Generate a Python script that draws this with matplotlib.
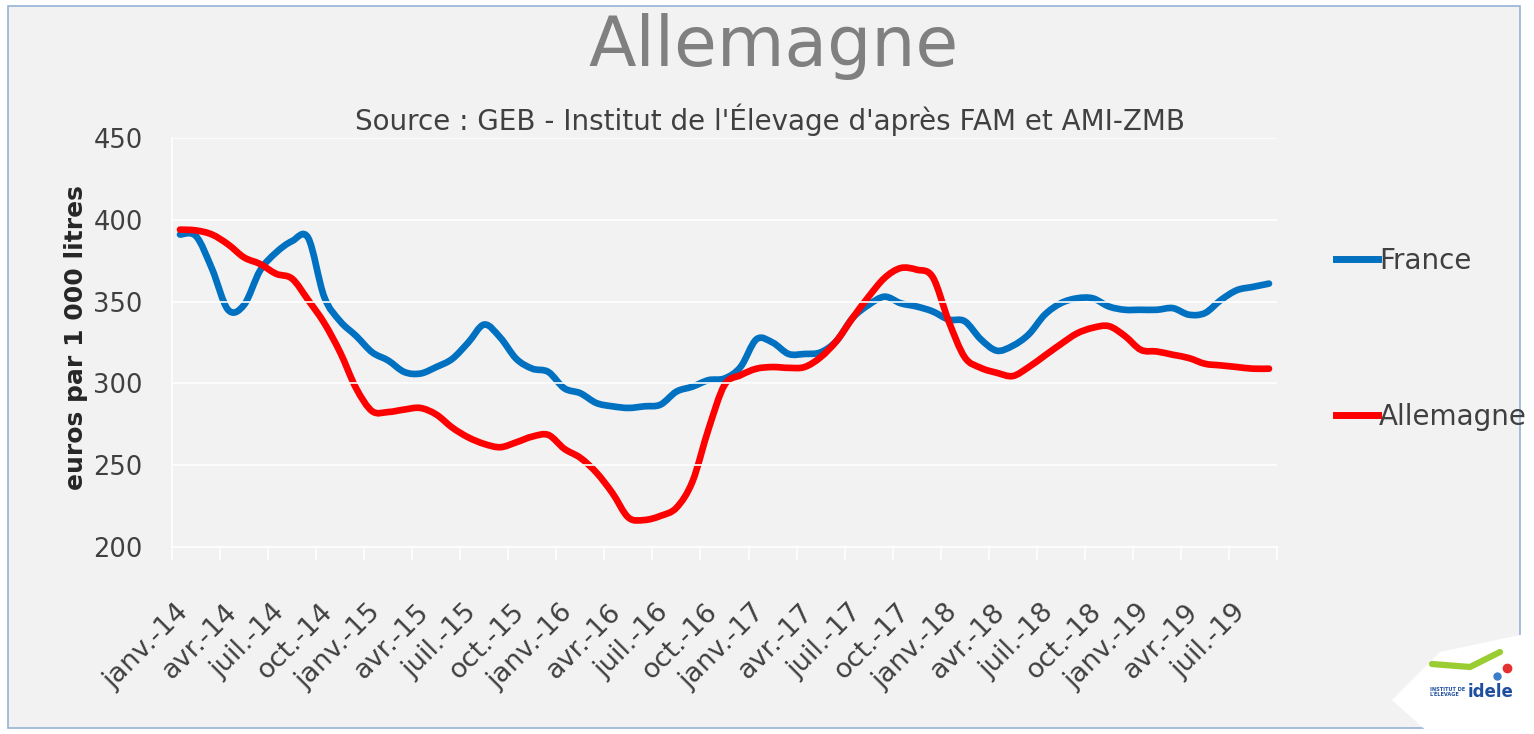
import numpy as np
import matplotlib
matplotlib.use('Agg')
import matplotlib.pyplot as plt
from matplotlib.path import Path
from matplotlib.patches import PathPatch, Rectangle, Polygon
from matplotlib.lines import Line2D

# monthly milk price, janv.-14 .. sept.-19 (euros par 1 000 litres)
france = [391, 390, 370, 345, 348, 369, 380, 387, 389, 353, 338, 329, 319, 314,
          307, 306, 310, 315, 325, 336, 328, 315, 309, 307, 297, 294, 288, 286,
          285, 286, 287, 295, 298, 302, 303, 310, 327, 325, 318, 318, 319, 326,
          340, 348, 353, 349, 347, 344, 339, 338, 327, 320, 323, 330, 342, 349,
          352, 352, 347, 345, 345, 345, 346, 342, 343, 351, 357, 359, 361]
allemagne = [394, 393.5, 391, 385, 377, 373, 367, 364, 351, 337, 319, 297, 283,
             282.5, 284, 285, 281, 273, 267, 263, 261, 264, 267.5, 268.5, 260,
             254.5, 245.5, 233, 218, 216.5, 219, 224, 240, 272, 299, 305, 309,
             310, 309.5, 310, 316, 326, 340, 353, 364.5, 370.5, 369.5, 365, 338,
             316, 309.5, 306.5, 304.5, 310, 317, 324, 330.5, 334, 335, 329, 320.5,
             319.5, 317.5, 315.5, 312, 311, 310, 309, 309]
tick_labels = ['janv.-14', 'avr.-14', 'juil.-14', 'oct.-14',
               'janv.-15', 'avr.-15', 'juil.-15', 'oct.-15',
               'janv.-16', 'avr.-16', 'juil.-16', 'oct.-16',
               'janv.-17', 'avr.-17', 'juil.-17', 'oct.-17',
               'janv.-18', 'avr.-18', 'juil.-18', 'oct.-18',
               'janv.-19', 'avr.-19', 'juil.-19']

BLUE = '#0070C0'
RED = '#FF0000'
TXT = '#404040'


# smoothed line like Excel's (cubic bezier through every point)
def smooth_path(y):
    pts = np.column_stack([np.arange(len(y)), np.asarray(y, float)])
    verts = [pts[0]]
    codes = [Path.MOVETO]
    n = len(pts)
    for i in range(n - 1):
        p0 = pts[max(i - 1, 0)]
        p1 = pts[i]
        p2 = pts[i + 1]
        p3 = pts[min(i + 2, n - 1)]
        verts += [p1 + (p2 - p0) / 6, p2 - (p3 - p1) / 6, p2]
        codes += [Path.CURVE4] * 3
    return Path(verts, codes)


fig = plt.figure(figsize=(15.34, 7.34), dpi=100, facecolor='white')
fig.patches.append(Rectangle((8 / 1534, 1 - 728 / 734), 1512 / 1534, 722 / 734,
                             transform=fig.transFigure, facecolor='#f2f2f2',
                             edgecolor='#95b3d7', linewidth=1.2, zorder=-10))

ax = fig.add_axes([172 / 1534, 1 - 547 / 734, 1105 / 1534, 409 / 734])
ax.set_facecolor('none')

n = len(france)
ax.set_xlim(-0.5, n - 0.5)
ax.set_ylim(200, 450)

for s in ['top', 'right']:
    ax.spines[s].set_visible(False)
for s in ['left', 'bottom']:
    ax.spines[s].set_color('white')
    ax.spines[s].set_linewidth(1.2)

ax.set_yticks(np.arange(200, 451, 50))
ax.grid(axis='y', color='white', linewidth=1.2)
ax.tick_params(axis='y', length=0, pad=21, labelsize=18.5, labelcolor=TXT)

# tick marks at quarter boundaries, labels slightly to the right
ax.set_xticks(np.arange(-0.5, n, 3))
ax.set_xticklabels([])
ax.tick_params(axis='x', which='major', length=9, width=1.2, color='white')
ax.set_xticks(np.arange(len(tick_labels)) * 3 + 0.3, minor=True)
ax.set_xticklabels(tick_labels, minor=True, rotation=45, ha='right',
                   va='center', rotation_mode='anchor')
ax.tick_params(axis='x', which='minor', length=0, pad=44, labelsize=19.5,
               labelcolor=TXT)

ax.add_patch(PathPatch(smooth_path(france), facecolor='none', edgecolor=BLUE,
                       linewidth=4.8, capstyle='round', joinstyle='round'))
ax.add_patch(PathPatch(smooth_path(allemagne), facecolor='none', edgecolor=RED,
                       linewidth=4.8, capstyle='round', joinstyle='round'))

handles = [Line2D([], [], color=BLUE, linewidth=5),
           Line2D([], [], color=RED, linewidth=5)]
fig.legend(handles, ['France', 'Allemagne'], loc='upper left',
           bbox_to_anchor=(1336 / 1534, 1 - 247 / 734), frameon=False,
           fontsize=20, labelcolor=TXT, handlelength=1.5, handletextpad=0.05,
           labelspacing=4.6, borderpad=0, borderaxespad=0)

fig.text(774 / 1534, 1 - 47 / 734, 'Allemagne', ha='center', va='center',
         fontsize=50, color='#808080')
fig.text(770 / 1534, 1 - 120 / 734,
         "Source : GEB - Institut de l'Élevage d'après FAM et AMI-ZMB",
         ha='center', va='center', fontsize=20, color=TXT)
fig.text(76 / 1534, 1 - 338 / 734, 'euros par 1 000 litres', rotation=90,
         ha='center', va='center', fontsize=18, fontweight='bold', color='#262626')

# logo corner
fig.patches.append(Polygon([(1392 / 1534, 1 - 700 / 734), (1440 / 1534, 1 - 652 / 734),
                            (1534 / 1534, 1 - 632 / 734), (1534 / 1534, 1 - 734 / 734),
                            (1430 / 1534, 1 - 734 / 734)],
                           closed=True, transform=fig.transFigure,
                           facecolor='white', edgecolor='none', zorder=-5))
fig.lines.append(Line2D([1432 / 1534, 1470 / 1534, 1500 / 1534],
                        [1 - 664 / 734, 1 - 667 / 734, 1 - 652 / 734],
                        transform=fig.transFigure, color='#9acd32', linewidth=4.5,
                        solid_capstyle='round'))
fig.lines.append(Line2D([1497 / 1534], [1 - 676 / 734], transform=fig.transFigure,
                        marker='o', markersize=5, color='#3a7dc9', linestyle='none'))
fig.lines.append(Line2D([1507 / 1534], [1 - 668 / 734], transform=fig.transFigure,
                        marker='o', markersize=6, color='#e63030', linestyle='none'))
fig.text(1430 / 1534, 1 - 692 / 734, "INSTITUT DE\nL'ÉLEVAGE", fontsize=3.6,
         fontweight='bold', color='#1f4e9e', ha='left', va='center',
         linespacing=1.0)
fig.text(1468 / 1534, 1 - 692 / 734, 'idele', fontsize=12, fontweight='bold',
         color='#1f4e9e', ha='left', va='center')

fig.savefig('out.png', dpi=100, facecolor=fig.get_facecolor())
